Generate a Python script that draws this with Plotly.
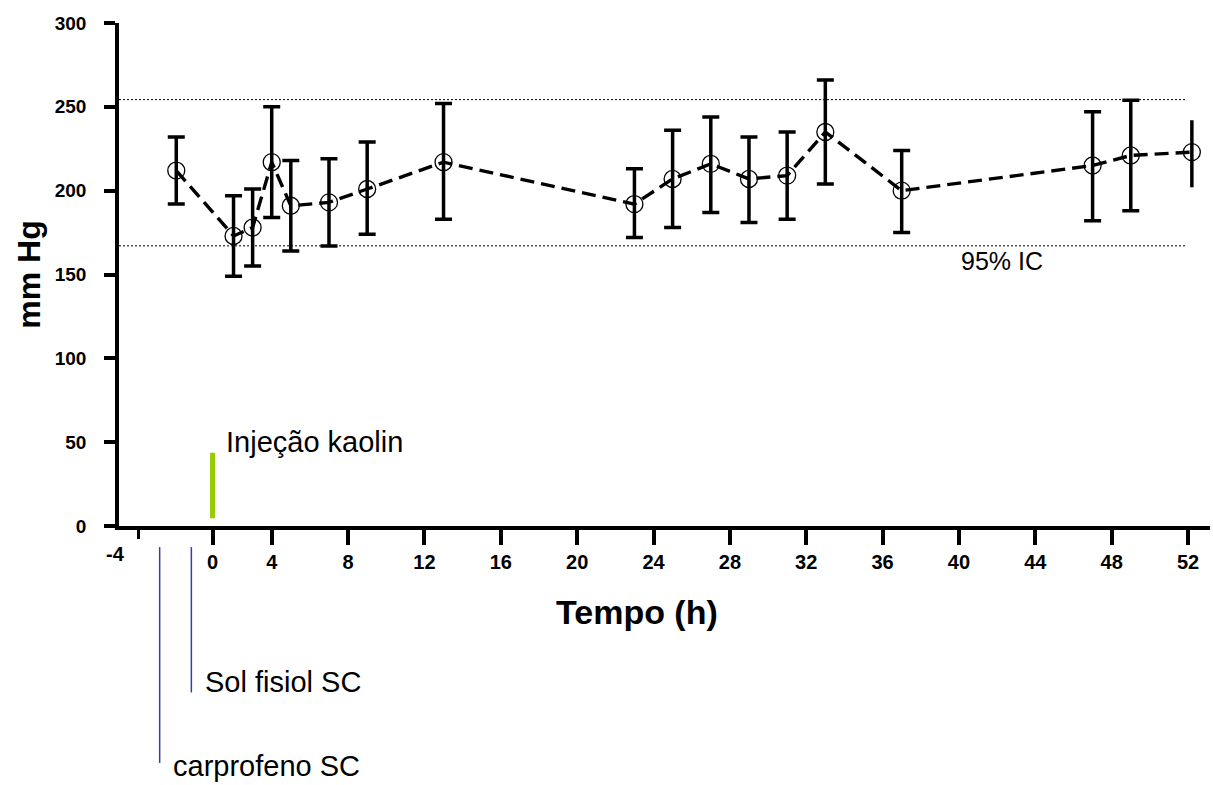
import plotly.graph_objects as go

# ---- data ----
time_h = [-1, 2, 3, 4, 5, 7, 9, 13, 23, 25, 27, 29, 31, 33, 37, 47, 49, 52.2]
mean_mmhg = [212, 173, 178, 217, 191, 193, 201, 217, 192, 207, 216, 207, 209, 235, 200, 215, 221, 223]
upper_mmhg = [232, 197, 201, 250, 218, 219, 229, 252, 213, 236, 244, 232, 235, 266, 224, 247, 254, 242]
lower_mmhg = [192, 149, 155, 184, 164, 167, 174, 183, 172, 178, 187, 181, 183, 204, 175, 182, 188, 202]

ci95_upper = 254.3
ci95_lower = 167.1
ci95_end = 51.85

x_tick_vals = [0.9, 4, 8, 12, 16, 20, 24, 28, 32, 36, 40, 44, 48, 52]
x_tick_text = ["0", "4", "8", "12", "16", "20", "24", "28", "32", "36", "40", "44", "48", "52"]
x_minor_vals = [-3]
x_first_label = "-4"
y_tick_vals = [0, 50, 100, 150, 200, 250, 300]

kaolin_x = 0.9
kaolin_y = [4.6, 43.7]
carprofeno_x = -1.87
solfisiol_x = -0.21

err_plus = [u - m for u, m in zip(upper_mmhg, mean_mmhg)]
err_minus = [m - l for m, l in zip(mean_mmhg, lower_mmhg)]

FONT = "Liberation Sans, Arial, sans-serif"

fig = go.Figure()

# error bars with caps (all but last)
fig.add_trace(go.Scatter(
    x=time_h[:-1], y=mean_mmhg[:-1], mode="markers",
    marker=dict(size=1, color="rgba(0,0,0,0)"),
    error_y=dict(type="data", symmetric=False, array=err_plus[:-1], arrayminus=err_minus[:-1],
                 color="black", thickness=3.5, width=8.5),
    showlegend=False, hoverinfo="skip"))
# last error bar without caps
fig.add_trace(go.Scatter(
    x=time_h[-1:], y=mean_mmhg[-1:], mode="markers",
    marker=dict(size=1, color="rgba(0,0,0,0)"),
    error_y=dict(type="data", symmetric=False, array=err_plus[-1:], arrayminus=err_minus[-1:],
                 color="black", thickness=3.5, width=0),
    showlegend=False, hoverinfo="skip"))
# dashed mean line with open circles
fig.add_trace(go.Scatter(
    x=time_h, y=mean_mmhg, mode="lines+markers",
    line=dict(color="black", width=3.4, dash="14px,7px"),
    marker=dict(symbol="circle-open", size=17, color="black", line=dict(width=1.3, color="black")),
    showlegend=False))

shapes = [
    dict(type="line", xref="x", yref="y", x0=-4, x1=ci95_end, y0=ci95_upper, y1=ci95_upper,
         line=dict(color="black", width=1, dash="2px,2px")),
    dict(type="line", xref="x", yref="y", x0=-4, x1=ci95_end, y0=ci95_lower, y1=ci95_lower,
         line=dict(color="black", width=1, dash="2px,2px")),
    dict(type="line", xref="x", yref="y", x0=kaolin_x, x1=kaolin_x, y0=kaolin_y[0], y1=kaolin_y[1],
         line=dict(color="#99CC00", width=5)),
    dict(type="line", xref="x", yref="paper", x0=carprofeno_x, x1=carprofeno_x, y0=-0.042, y1=-0.471,
         line=dict(color="#3a3ab4", width=1.5)),
    dict(type="line", xref="x", yref="paper", x0=solfisiol_x, x1=solfisiol_x, y0=-0.042, y1=-0.331,
         line=dict(color="#3a3ab4", width=1.5)),
]

annotations = [
    dict(text="Injeção kaolin", x=1.5, y=50, xref="x", yref="y", xanchor="left", yanchor="middle",
         showarrow=False, font=dict(family=FONT, size=29, color="black")),
    dict(text="95% IC", x=40, y=158, xref="x", yref="y", xanchor="left", yanchor="middle",
         showarrow=False, font=dict(family=FONT, size=25, color="black")),
    dict(text="Sol fisiol SC", x=0.38, y=-0.31, xref="x", yref="paper", xanchor="left", yanchor="middle",
         showarrow=False, font=dict(family=FONT, size=29, color="black")),
    dict(text="carprofeno SC", x=-1.3, y=-0.477, xref="x", yref="paper", xanchor="left", yanchor="middle",
         showarrow=False, font=dict(family=FONT, size=29, color="black")),
    dict(text=x_first_label, x=-0.003, y=-0.03, xref="paper", yref="paper", xanchor="center", yanchor="top",
         showarrow=False, font=dict(family=FONT, size=20, color="black", weight="bold")),
    # x-axis title (placed like in the reference, left of the plot centre)
    dict(text="Tempo (h)", x=0.475, y=-0.171, xref="paper", yref="paper", xanchor="center", yanchor="middle",
         showarrow=False, font=dict(family=FONT, size=34, color="black", weight="bold")),
]

fig.update_layout(
    width=1213, height=785,
    margin=dict(l=119, r=3, t=23, b=259),
    paper_bgcolor="white", plot_bgcolor="white",
    font=dict(family=FONT, color="black"),
    shapes=shapes, annotations=annotations,
    showlegend=False,
)

fig.update_xaxes(
    range=[-4, 53.15], showgrid=False, zeroline=False,
    showline=True, linecolor="black", linewidth=3.5,
    tickmode="array", tickvals=x_tick_vals, ticktext=x_tick_text,
    ticks="outside", ticklen=15, tickwidth=3.5, tickcolor="black",
    tickfont=dict(family=FONT, size=20, color="black", weight="bold"),
    minor=dict(tickmode="array", tickvals=x_minor_vals, ticks="outside", ticklen=9, tickwidth=3, tickcolor="black"),
)
fig.update_yaxes(
    range=[0, 300], showgrid=False, zeroline=False,
    showline=True, linecolor="black", linewidth=3.5,
    tickmode="array", tickvals=y_tick_vals,
    ticks="outside", ticklen=11, tickwidth=3.5, tickcolor="black",
    tickfont=dict(family=FONT, size=19, color="black", weight="bold"),
    ticklabelstandoff=14,
    title=dict(text="mm Hg", font=dict(family=FONT, size=32, color="black", weight="bold"), standoff=6),
)

fig.write_html("out.html", config={"displayModeBar": False},
               post_script="document.body.style.margin='0';document.body.style.overflow='hidden';")
